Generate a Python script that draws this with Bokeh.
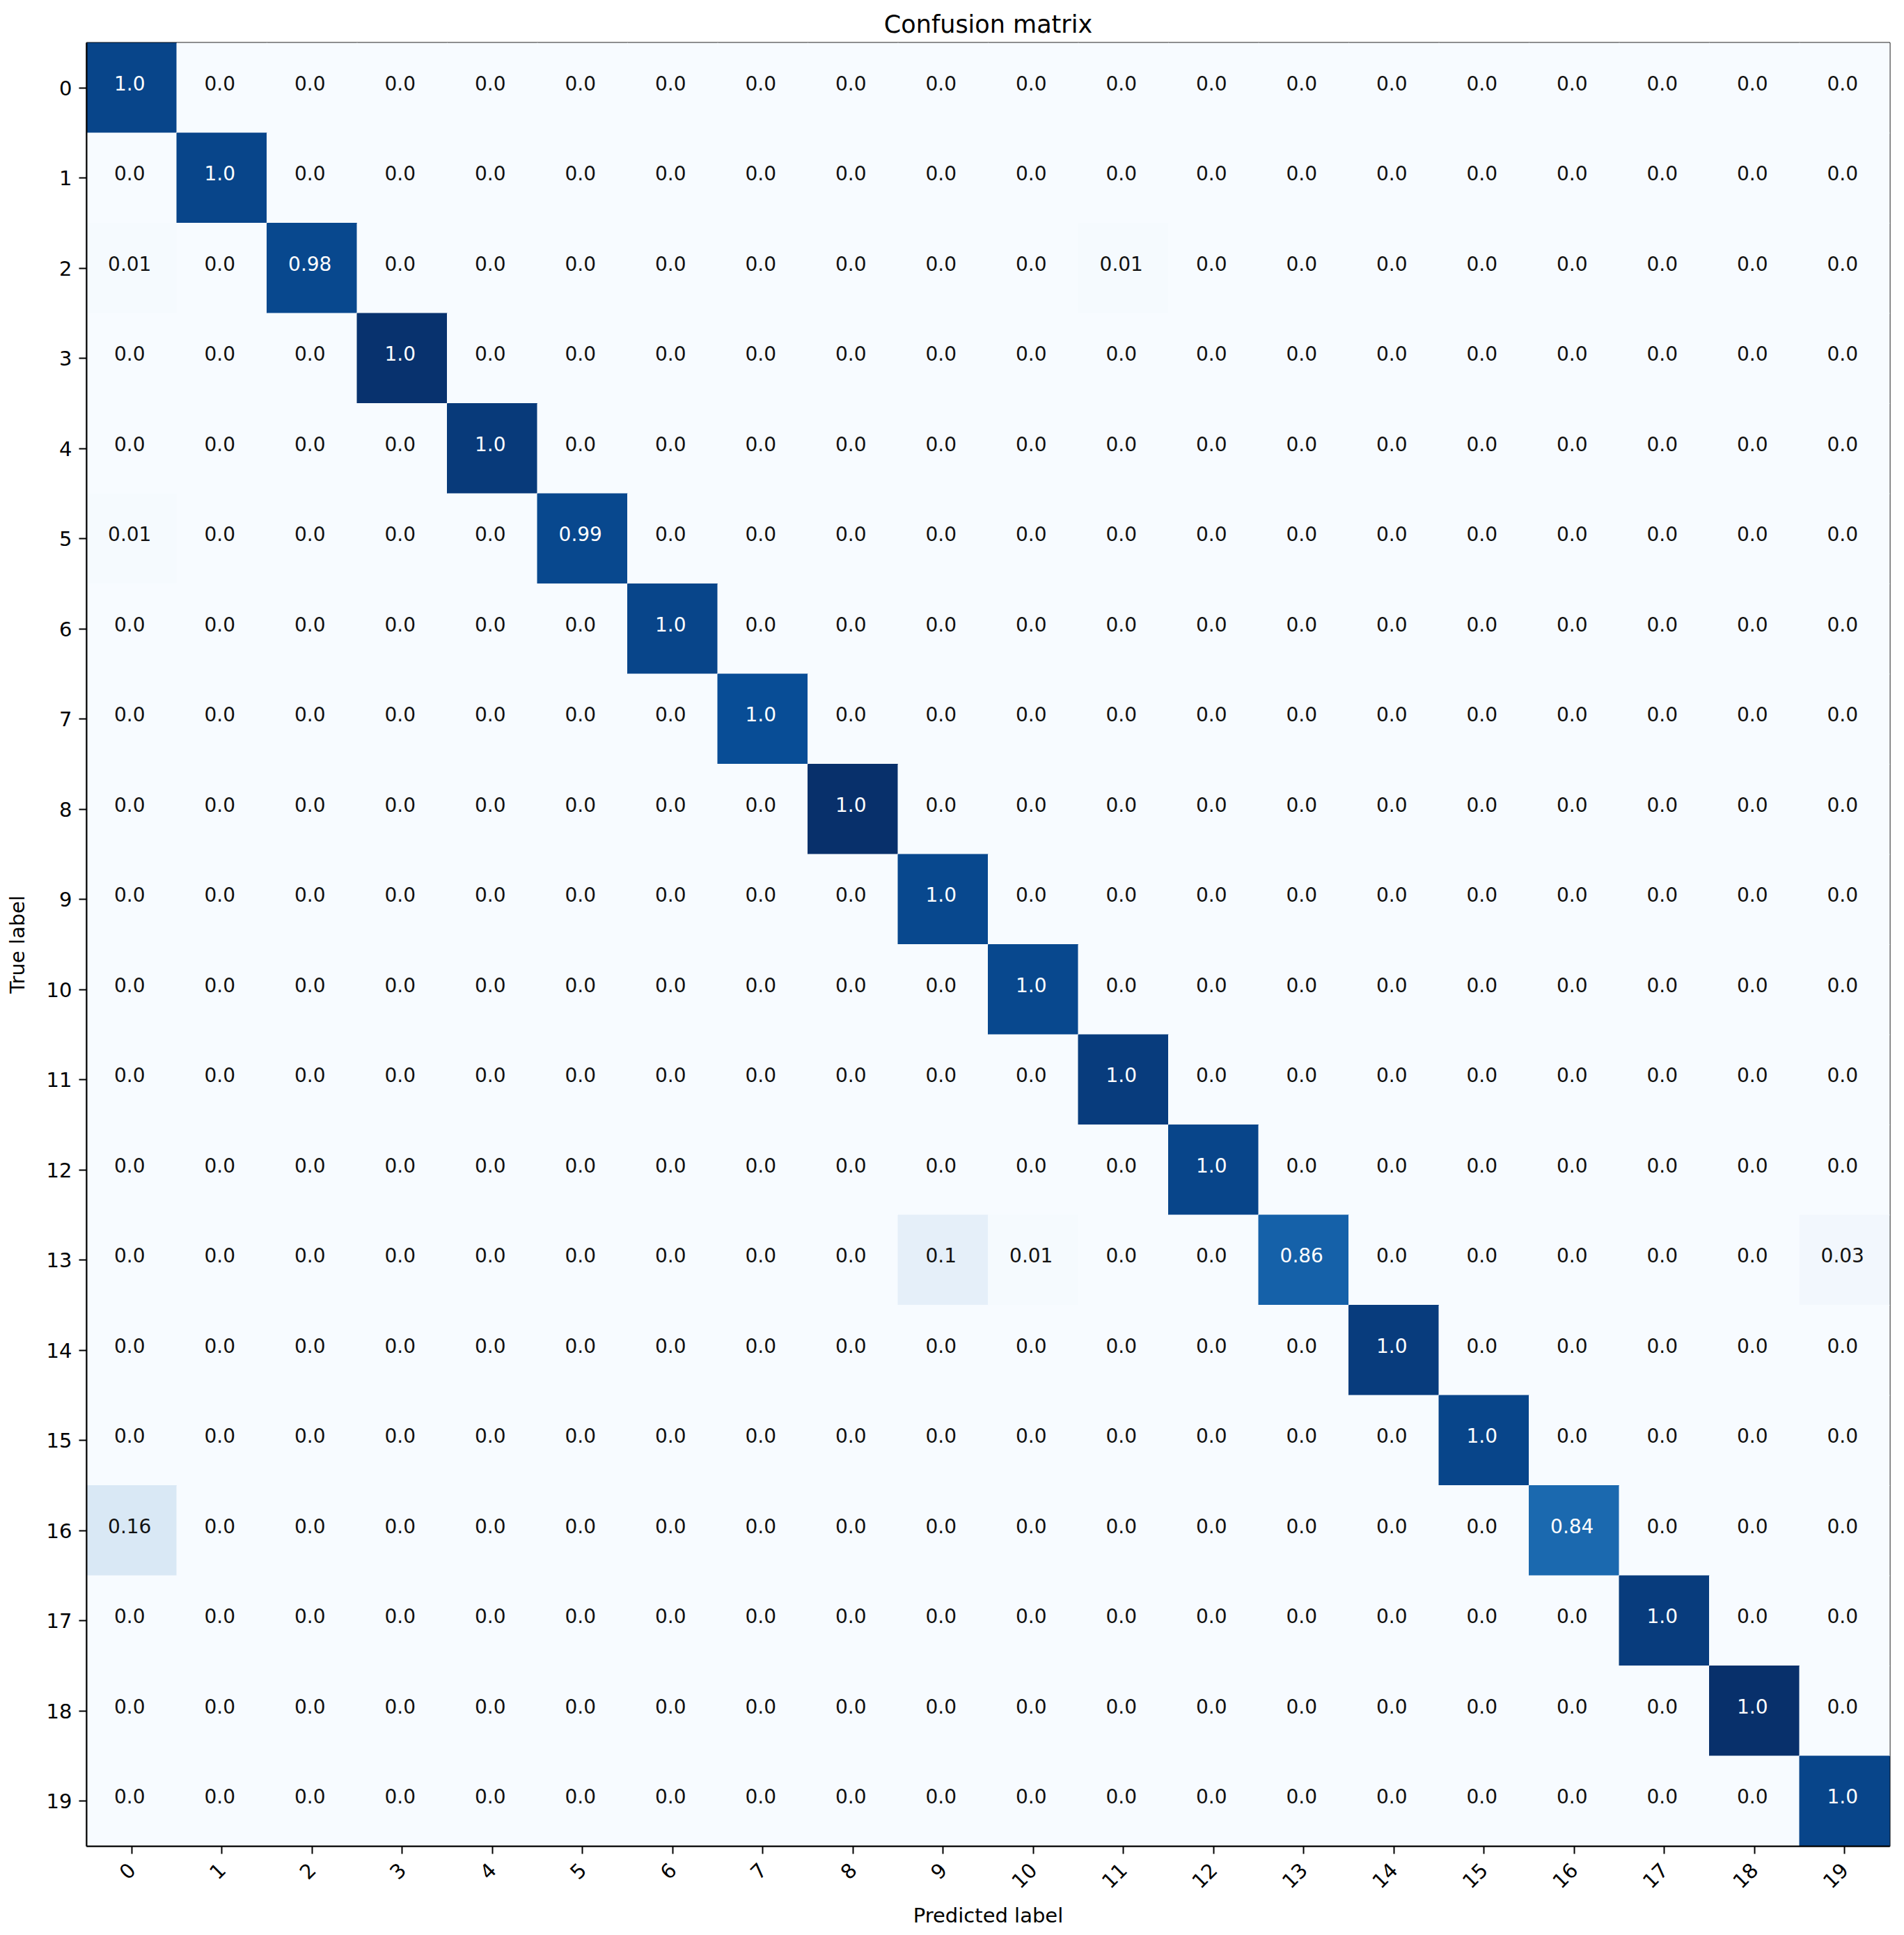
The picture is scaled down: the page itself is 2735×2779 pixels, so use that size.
import math
from bokeh.plotting import figure
from bokeh.models import ColumnDataSource, LinearColorMapper, FactorRange
from bokeh.palettes import Blues256
from bokeh.transform import transform
from bokeh.embed import file_html
from bokeh.resources import INLINE
from bokeh.core.properties import value

# ---- data -------------------------------------------------------------
classes = [str(i) for i in range(20)]
# correctly classified samples per true class (diagonal counts, estimated from shading)
diag_counts = [92, 92, 91, 99, 96, 91, 92, 89, 100, 91, 91, 95, 92, 81, 95, 92, 78, 95, 100, 92]
# misclassifications: true class, predicted class, count
off_true = [2, 2, 5, 13, 13, 13, 16]
off_pred = [0, 11, 0, 9, 10, 19, 0]
off_count = [1, 1, 1, 9, 1, 3, 15]

title_text = "Confusion matrix"
x_label = "Predicted label"
y_label = "True label"

# ---- build matrix -----------------------------------------------------
n = len(classes)
cm = [[0] * n for _ in range(n)]
for i, c in enumerate(diag_counts):
    cm[i][i] = c
for t, pr, c in zip(off_true, off_pred, off_count):
    cm[t][pr] = c
row_sums = [sum(r) for r in cm]
cmax = max(max(r) for r in cm)
thresh = cmax / 2.0

xs, ys, counts, labels, tcolors = [], [], [], [], []
for i in range(n):
    for j in range(n):
        xs.append(classes[j])
        ys.append(classes[i])
        counts.append(cm[i][j])
        labels.append(str(round(cm[i][j] / row_sums[i], 2)))
        tcolors.append("white" if cm[i][j] > thresh else "#111111")

src = ColumnDataSource(dict(x=xs, y=ys, count=counts, label=labels, tcolor=tcolors))

mapper = LinearColorMapper(palette=list(reversed(Blues256)), low=0, high=cmax)

FONT = "DejaVu Sans"

p = figure(
    width=2730, height=2771,
    x_range=FactorRange(*classes),
    y_range=FactorRange(*list(reversed(classes))),
    output_backend="svg", toolbar_location=None,
    min_border_left=124, min_border_right=16,
    min_border_top=61, min_border_bottom=118,
)

p.rect(x="x", y="y", width=1, height=1, source=src,
       fill_color=transform("count", mapper),
       line_color=transform("count", mapper), line_width=1)

p.text(x="x", y="y", text="label", source=src,
       text_color="tcolor", text_align="center", text_baseline="middle",
       text_font=value(FONT), text_font_size="28px",
       x_offset=-3, y_offset=-7)

p.title.text = title_text
p.title.align = "center"
p.title.text_font = FONT
p.title.text_font_size = "35px"
p.title.text_font_style = "normal"
p.title.text_color = "black"
p.title.standoff = 14

p.xgrid.grid_line_color = None
p.ygrid.grid_line_color = None

for ax in (p.xaxis[0], p.yaxis[0]):
    ax.major_label_text_font = FONT
    ax.major_label_text_font_size = "29px"
    ax.major_label_text_color = "black"
    ax.axis_label_text_font = FONT
    ax.axis_label_text_font_size = "29px"
    ax.axis_label_text_font_style = "normal"
    ax.axis_label_text_color = "black"
    ax.major_tick_out = 11
    ax.major_tick_in = 0
    ax.major_tick_line_width = 2
    ax.major_tick_line_color = "black"
    ax.axis_line_color = "black"
    ax.axis_line_width = 2
    ax.major_label_standoff = 10

p.xaxis.major_label_standoff = 18
p.xaxis.axis_label = x_label
p.yaxis.axis_label = y_label
p.xaxis.major_label_orientation = math.pi / 4
p.xaxis.axis_label_standoff = 10
p.yaxis.axis_label_standoff = 22

p.outline_line_color = "black"
p.outline_line_width = 2
p.outline_line_alpha = 1.0
p.background_fill_color = "white"
p.border_fill_color = "white"

open("out.html", "w").write(file_html(p, INLINE))
